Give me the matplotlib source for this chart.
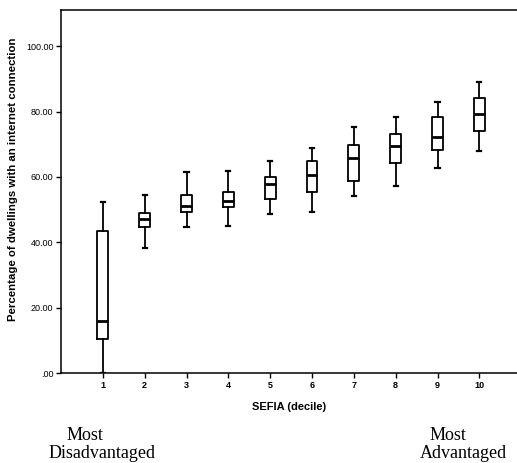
import matplotlib.pyplot as plt
import numpy as np

# SEFIA decile box plot values
deciles = [1, 2, 3, 4, 5, 6, 7, 8, 9, 10]
whisker_low = [0.0, 38.4, 44.6, 45.0, 48.8, 49.2, 54.1, 57.1, 62.7, 67.8]
q1 = [10.6, 44.7, 49.2, 50.9, 53.4, 55.3, 58.9, 64.4, 68.2, 74.0]
median = [16.0, 47.0, 51.2, 52.6, 58.0, 60.5, 65.8, 69.4, 72.3, 79.2]
q3 = [43.4, 49.1, 54.5, 55.4, 59.9, 64.8, 69.7, 73.1, 78.3, 84.0]
whisker_high = [52.2, 54.5, 61.4, 61.9, 65.0, 68.8, 75.2, 78.3, 83.0, 89.0]

y_ticks = [0, 20, 40, 60, 80, 100]
y_tick_labels = ['.00', '20.00', '40.00', '60.00', '80.00', '100.00']


def build_stats():
    stats = []
    for i in range(len(deciles)):
        stats.append({
            'whislo': whisker_low[i],
            'q1': q1[i],
            'med': median[i],
            'q3': q3[i],
            'whishi': whisker_high[i],
            'fliers': [],
        })
    return stats


def main():
    plt.rcParams['font.family'] = ['Liberation Sans', 'DejaVu Sans']

    fig = plt.figure(figsize=(5.17, 4.63), dpi=100)
    ax = fig.add_axes([0.118, 0.194, 0.882, 0.784])

    ax.bxp(build_stats(), positions=deciles, widths=0.26, showfliers=False,
           boxprops=dict(color='black', linewidth=1.3),
           medianprops=dict(color='black', linewidth=2.0),
           whiskerprops=dict(color='black', linewidth=1.3),
           capprops=dict(color='black', linewidth=1.6),
           capwidths=0.1)

    ax.set_xlim(0, 10.9)
    ax.set_ylim(0, 111)

    ax.set_xticks(deciles)
    ax.set_xticklabels([str(d) for d in deciles], fontsize=6.5, fontweight='bold')
    ax.set_yticks(y_ticks)
    ax.set_yticklabels(y_tick_labels, fontsize=6.5)
    ax.tick_params(axis='both', direction='out', length=3.5, width=1, pad=2)

    for side in ['left', 'bottom', 'top']:
        ax.spines[side].set_linewidth(1.1)
    ax.spines['right'].set_visible(False)

    ax.set_xlabel('SEFIA (decile)', fontsize=8, fontweight='bold', labelpad=9)
    ax.set_ylabel('Percentage of dwellings with an internet connection',
                  fontsize=8.2, fontweight='bold')
    ax.yaxis.set_label_coords(-0.095, 0.535)

    serif = ['Liberation Serif', 'DejaVu Serif']
    fig.text(85 / 517, 1 - 435 / 463, 'Most', ha='center', va='center',
             fontsize=13, family=serif)
    fig.text(102 / 517, 1 - 453 / 463, 'Disadvantaged', ha='center', va='center',
             fontsize=13, family=serif)
    fig.text(448 / 517, 1 - 435 / 463, 'Most', ha='center', va='center',
             fontsize=13, family=serif)
    fig.text(463 / 517, 1 - 453 / 463, 'Advantaged', ha='center', va='center',
             fontsize=13, family=serif)

    fig.savefig('out.png', dpi=100)


if __name__ == "__main__":
    main()
